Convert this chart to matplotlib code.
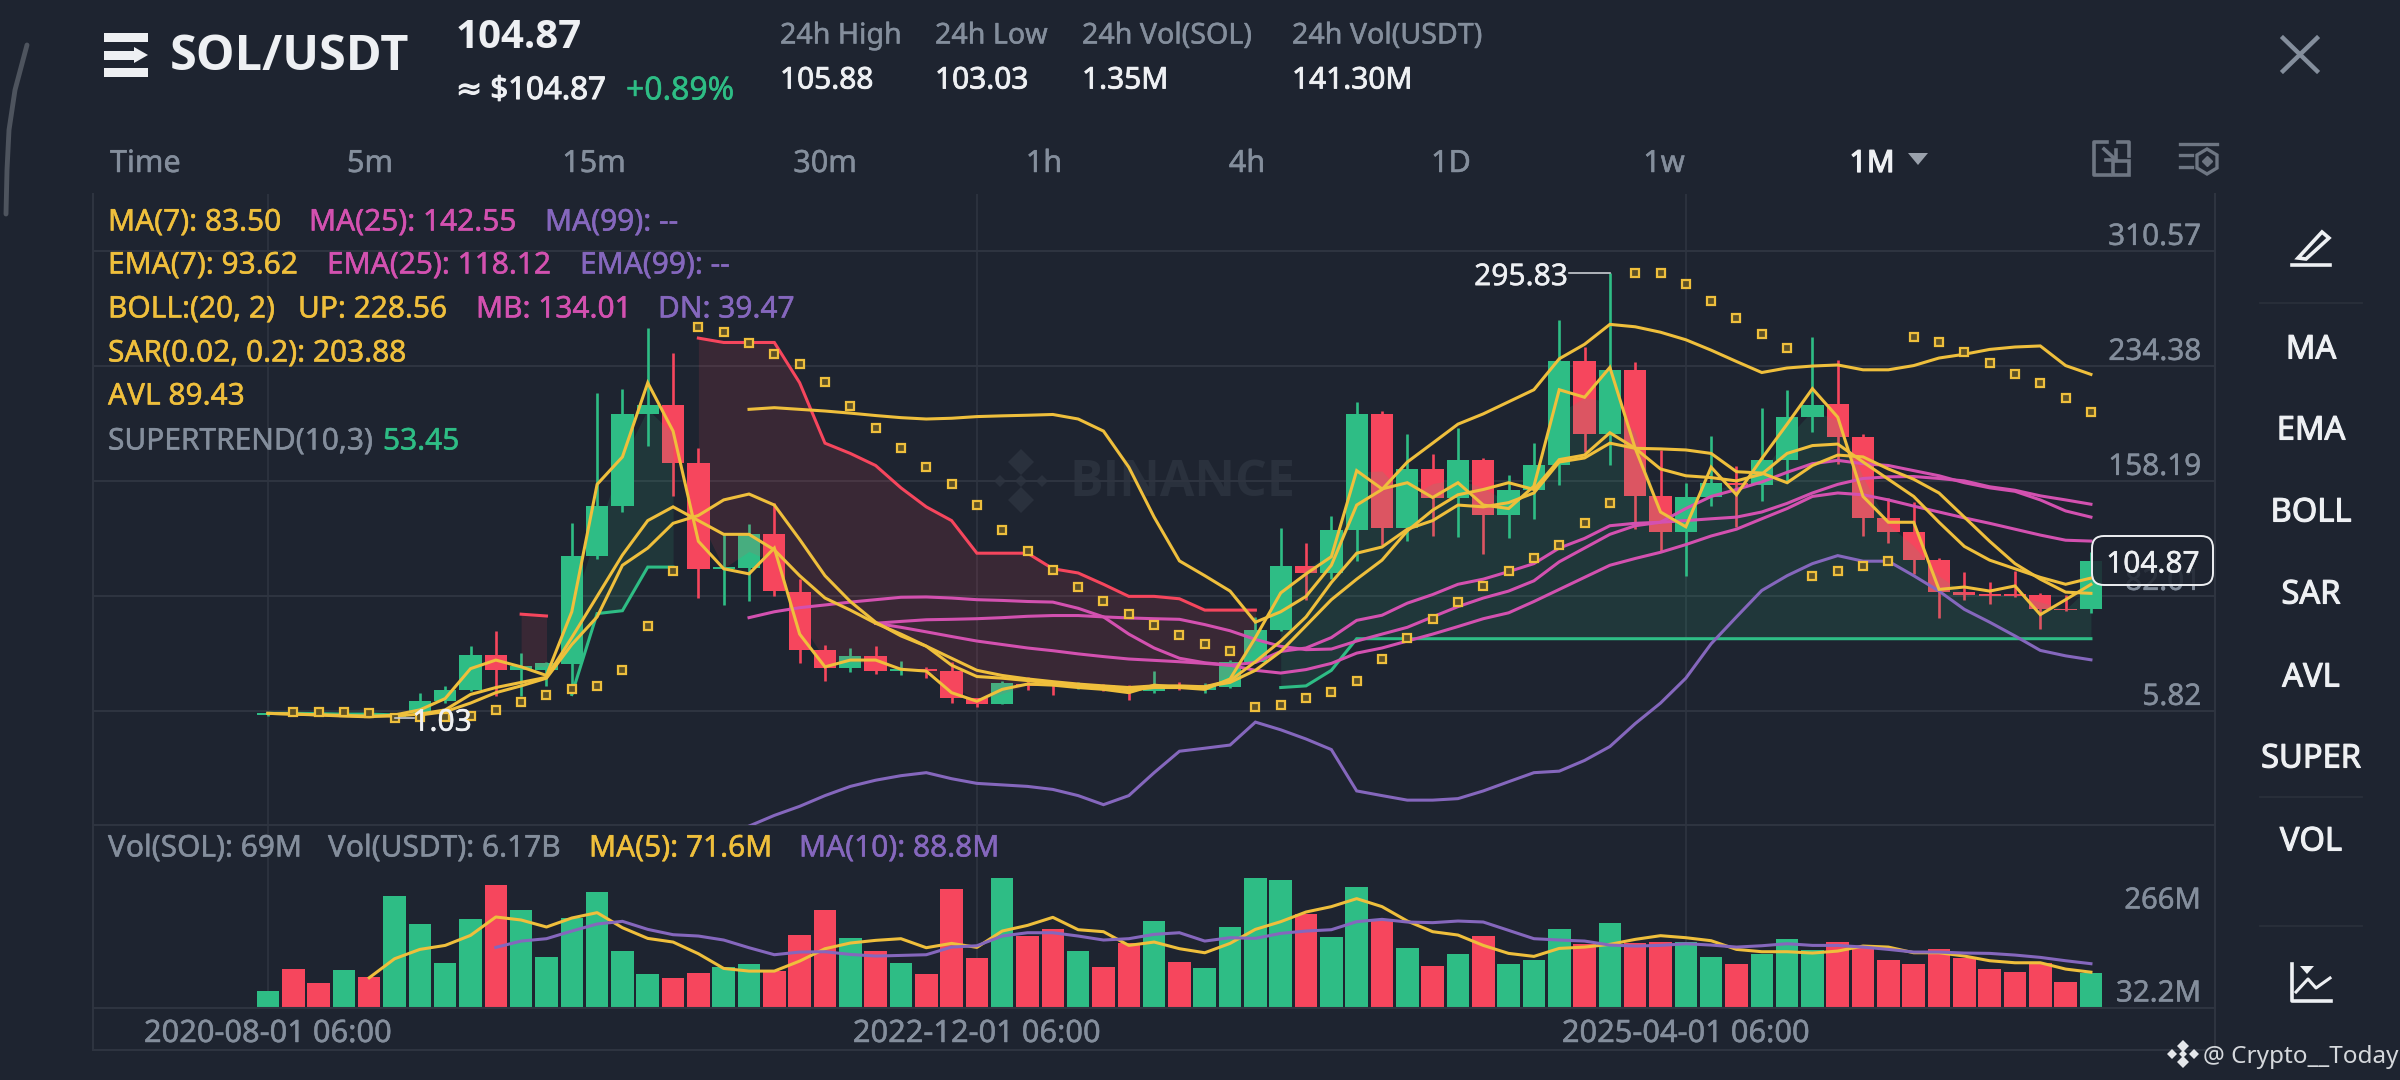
import numpy as np
import matplotlib
matplotlib.use("Agg")
import matplotlib.pyplot as plt
import matplotlib.patheffects as pe
from matplotlib.patches import FancyBboxPatch, Polygon, Rectangle

plt.rcParams['font.family'] = ['Noto Sans', 'DejaVu Sans']
BOLD = ['Open Sans', 'DejaVu Sans']

N = 73
opens = [3.1,4.2,3.8,3.5,3.2,1.6,4.0,12.4,19.4,42.8,33.0,33.0,37.0,108.2,141.3,202.4,208.4,169.8,99.5,100,122.6,84.6,45.7,34.1,42.1,32.0,33.2,32.0,14.2,10.1,23.2,22.7,21.3,22.7,21.8,18.8,22.7,19.5,21.5,38.2,59.2,101.6,97.0,125.6,202.4,126.7,165.9,146.6,171.6,135.1,152.3,168.7,237.3,189.2,231.6,148.1,124.4,147.2,156.8,155,172.1,200.6,208.8,187.4,133.5,124.4,105.5,84.5,83.2,83.2,82.7,73.4,72.9]
closes = [4.4,3.3,3.2,3.0,2.4,2.8,12.4,19.3,42.8,33.0,35.5,37.5,108.2,141.3,202.4,208.4,169.8,99.8,100.9,122.6,85.0,45.7,34.1,42.3,31.8,33.2,32.0,14.2,9.9,24.1,22.2,21.8,23.2,20.9,19.9,22.7,20.4,22.2,38.2,59.2,101.6,97.0,125.6,202.4,126.7,165.9,146.6,171.6,135.1,152.3,168.7,237.3,189.2,231.6,148.1,124.4,147.2,156.4,155,172.1,200.6,208.6,187.4,133.5,124.4,105.5,84.5,82.7,81.6,81.6,72.9,72.2,104.87]
highs = [5,5,4.2,4,4,3.5,17.7,22.2,48.5,58.3,43.9,38.2,130.1,216.1,218.9,259.5,243.0,179.6,122.6,129.4,143.1,93,49.6,47.3,48.5,38.7,34.8,38.2,14.2,25.7,27.9,24.5,24.5,23.4,22.7,32.0,25.0,24.0,39.3,67.9,126.5,116.9,134.5,210,204.3,189.2,175.5,193.3,173.2,161.8,183.0,264.5,246.9,295.83,236.7,178.5,156.8,187.6,168.2,206.5,218,253.3,237.8,189.2,146.6,144.3,106.6,97.9,90.7,98.6,83.4,82.7,110.7]
lows = [2.5,2.8,2.8,2.5,1.5,1.03,2.9,10.8,18.8,15.4,15.4,22.2,16.5,106.2,137.4,180.8,148.1,80.4,75.8,78.1,81.6,37.1,25.7,31.4,30.2,29.5,27.3,10.8,7.9,9.9,19.5,16.1,19.9,18.8,13.1,17.7,19.5,17.7,21.1,37.7,58.3,78.8,92.9,104.8,115.8,118.0,121.5,120.8,109.8,119.9,132.9,155,176.9,168.7,126,111.7,95.2,141.3,127.2,144.7,156.8,190.6,169.4,121.5,116.9,96.4,67.2,78.8,76.5,81.1,59.9,72.0,70.6]

sar = [5.1,5.1,4.7,4.0,1.0,1.7,1.7,2.4,6.3,11.3,16.3,20.2,22.2,32.5,62.1,98.0,259.9,256.5,249.2,242.1,235.3,223.6,207.7,193.3,179.6,167.5,156.1,141.8,125.6,111.6,98.9,87.9,78.6,70.1,62.6,56.0,50.1,45.0,8.1,9.2,14.0,18.4,25.4,40.3,53.7,66.3,77.7,88.4,98.2,107.1,115.3,130.4,143.6,295.9,295.9,288.7,277,265.8,255.6,246.2,95.2,98.6,101.4,104.8,253.5,250.3,243.5,236,229.1,222.7,213.2,203.88]

boll_up = [205.4,206.5,205.4,204.3,202.9,201.3,199.9,199,199.5,200.6,201.1,201.5,202,199,191,167.1,134,105,95.2,85,64.4,71.3,81.5,102.1,142,152.3,170.5,183,195.6,202.4,210.4,218.4,238.9,248.5,261.7,260.1,256.5,251.5,244.6,237.1,229.8,232.8,234.1,234.8,231.6,231.6,234.4,239.4,241.9,245.1,246.7,247.4,234.4,228.56]
boll_mb = [67.4,71.3,74,75.8,77.7,79.3,80.9,81.1,80.4,79.3,78.8,78.1,77.7,73.6,67.9,56.5,47.3,40.5,37.5,35.9,37.7,45,47.3,54.2,65.6,69,77,82.7,89.5,92.9,97.9,103.2,113.5,119.9,128.3,129.9,130.6,139.7,147.7,152.3,157.3,163.7,169.4,171.6,169.4,168.2,164.8,161.4,156.8,153.4,151.1,145.4,138.1,134.01]
boll_dn = [-70.7,-63.6,-57.6,-50.5,-44.4,-40.3,-37.3,-35.3,-39.3,-42.4,-43.4,-44.4,-46.4,-50.5,-56.5,-50.5,-35.3,-21.1,-19.1,-17.0,-1.8,-6.9,-13,-20,-47.4,-50.5,-53.5,-53.5,-52.5,-47.4,-41.3,-35.3,-34.3,-27.2,-18,-2.8,10.8,27.3,50.1,67.9,85.4,95.2,103.2,108.5,104.8,104.8,95.2,85,72.9,64.4,55.3,45.7,42.1,39.47]
ma25 = [63.7,64.9,66,66.3,66.7,67.4,68.3,68.8,68.8,67.9,67.2,66.7,66.3,62.8,58.7,53,48.4,46.2,46.6,51.9,56.5,61,67.9,74.7,80.4,85,91.8,104.4,113.5,122.6,128.3,130.6,131.7,132.9,134,137.4,143.1,150,155.7,159.6,160.7,160.9,159.6,158,154.1,151.8,148.1,145.4,142.55]
ema25 = [63.7,61,58,54.9,51.9,49.6,47.3,45.5,43.4,41.6,40,39.1,38.2,37.1,35.9,32.5,30.7,33,37.1,43.9,47.3,51.9,56.5,61.5,66.7,70.6,78.1,86.1,94.1,102.1,106.6,110.7,115.8,121.5,126,132.9,139.7,147.7,150,148.8,145.4,141.3,137.4,133.5,129.9,126,122.1,118.7,118.12]
avl = [4,3.5,2.9,2.2,1.7,2.9,6.3,13.8,33.6,39.3,34.8,29.1,71.3,155.7,173.9,223,191,118,99.8,96.4,113.5,56.5,34.8,39.3,39.3,33.2,32,17.7,12,19.9,23.4,22.7,21.1,19.9,17.7,22.7,21.1,19.9,26.8,54.2,83.8,96.4,107.8,164.8,152.7,156.8,147,156.8,142,139.7,154.5,218.4,213.4,233.2,179.6,137.4,127.6,167.1,148.8,172.8,195.6,219.1,200.2,147.7,130.6,130.6,86.1,87.7,85,88.4,69.4,79.3,89.43]
ema7 = [4,3.5,3.1,2.6,2.2,2.2,3.5,6.3,16.5,21.1,24.5,27.9,54.2,81.5,108.9,131.7,140.8,131.7,122.6,122.6,112.3,95.2,80.4,72.4,63.7,56.5,48.5,35.9,28.4,27.3,25.7,23.8,22.2,21.1,19.5,21.1,21.1,21.6,25.7,38.2,51.9,67.9,90.7,110.1,114.2,126,131.7,142,140.8,143.6,150,170.5,173.2,183,179.6,165.9,161.4,160.2,158,162.5,176.2,181.4,182.4,170.5,159.1,147.7,130.6,114.6,105.5,99.8,94.1,89.5,93.62]
ma7 = [2.9,5.1,10.8,17.7,22.2,27.3,49.6,67.9,102.1,113.5,129.9,135.1,145.4,149.3,142,119.2,95.2,78.1,64.4,55.3,48.5,40.5,32.5,29.1,26.8,25,23.4,22.2,21.1,22.2,22.2,21.6,24.5,32.5,45,62.1,79.3,92.9,105.5,124.9,138.6,148.8,152.3,156.8,152.3,172.1,175.1,189.9,179.6,179.2,178.5,176.2,164.1,163.2,156.8,168.2,175.1,173.9,165.9,159.1,150,134,118,103.2,92.9,84.3,83.5]

st_green_a = [4.0,4.0,3.8,3.5,3.5,3.0]
st_red_a = [69.7,68.5]
st_green_b = [16.5,70.1,72,100.9,100.9]
st_red_b = [252.6,249.7,249.7,249.7,223,183,176.2,168.2,153.4,140.8,131.7,110.1,110.1,110.1,99.8,97,89.5,81.5,81.5,79.9,72.4,72.4,72.4]
st_green_c = [21.1,22.2,32.5,53.45,53.45,53.45,53.45,53.45,53.45,53.45,53.45,53.45,53.45,53.45,53.45,53.45,53.45,53.45,53.45,53.45,53.45,53.45,53.45,53.45,53.45,53.45,53.45,53.45,53.45,53.45,53.45,53.45,53.45]

vol = [32.5,78.5,48.7,75.8,61.6,226.8,168.6,89.4,179.4,247.8,197.7,101.6,180.8,234.2,113.7,68.4,60.3,70.4,81.2,88.7,73.8,147.6,197,140.1,113.7,90,67.7,241,100.9,262.7,144.9,159.8,115.1,81.2,130,175.3,91.4,79.2,163.8,263.4,259.3,190.2,142.8,243.7,176.7,120.5,83.3,107.6,144.2,88,96.1,159.8,128,172,130,133.4,132.7,101.6,88,108.3,138.1,116.4,133.4,121.2,95.5,88.7,117.8,99.5,77.9,71.1,90.7,50.8,69]
vol_dir = ("GRRGR" "GGGGR" "GGGGG" "GRRGG" "RRRGR" "GRRRG" "RRGRR" "GRGGG" "GRGGR" "GRGRG"
           "GGRGR" "RGGRG" "GGRRR" "RRRRR" "RRG")
vol_ma5 = [60.3,98.8,117.8,125.9,146.2,183.5,177.4,163.2,181.4,192.3,161.8,140.1,132.7,109,79.2,73.8,73.8,94.1,119.2,130.7,136.1,139.5,121.2,130,121.9,155,166.5,182.8,157.7,153.7,125.9,132.7,119.2,111,130,158.4,174,193.6,204.5,220.7,204.5,175.3,153.7,146.9,125.9,109.7,103.6,119.8,122.5,128,138.1,145.6,141.5,135.4,117.8,113.1,113.1,110.4,114.4,124.6,122.5,111,111,104.3,94.8,90.7,90.7,77.9,71.6]
vol_ma10 = [121.9,134.7,139.5,155,169.3,174.7,158.4,147.6,144.9,136.8,121.2,107,112.4,113.1,107.6,104.3,105.6,107,122.5,125.2,144.9,151.6,151.6,144.9,136.8,139.5,148.3,151.6,134.7,141.5,140.1,150.3,155,157.7,174,178.7,173.3,172,175.3,173.3,156.4,139.5,136.8,134.7,126.6,124.6,125.9,129.3,126.6,122.5,125.2,129.3,125.9,125.9,122.5,117.8,112.4,112.4,110.4,109.7,106.3,101.6,94.8,88.8]

price_ticks = [310.57, 234.38, 158.19, 82.01, 5.82]
price_tick_labels = ['310.57', '234.38', '158.19', '82.01', '5.82']
date_positions = [0, 28, 56]
date_labels = ['2020-08-01 06:00', '2022-12-01 06:00', '2025-04-01 06:00']
intervals = ['5m', '15m', '30m', '1h', '4h', '1D', '1w']
side_buttons = ['MA', 'EMA', 'BOLL', 'SAR', 'AVL', 'SUPER', 'VOL']

BG = '#1E2430'; GRID = '#2E3440'; GREEN = '#2EBD85'; RED = '#F6465D'
YEL = '#EFBF3C'; PINK = '#D351B0'; PUR = '#8567BD'; GRAY = '#848E9C'; WHITE = '#EEF0F3'
LW = 2.2

W, H = 2400, 1080
fig = plt.figure(figsize=(24, 10.8), dpi=100, facecolor=BG)
def axpx(l, t, r, b, **k):
    return fig.add_axes([l/W, 1-b/H, (r-l)/W, (b-t)/H], **k)

under = axpx(0, 0, W, H); under.set_xlim(0, W); under.set_ylim(H, 0); under.axis('off'); under.set_zorder(0)
ax = axpx(93, 194, 2215, 825); ax.set_zorder(2); ax.patch.set_alpha(0)
vx = axpx(93, 825, 2215, 1007.5); vx.set_zorder(2); vx.patch.set_alpha(0)
top = axpx(0, 0, W, H); top.set_xlim(0, W); top.set_ylim(H, 0); top.axis('off'); top.set_zorder(5)

XL = (-6.91, 76.9)
xs = np.arange(N)
def pad(v):
    return np.array([np.nan]*(N-len(v)) + list(v), float)
def thick(c, w=0.5):
    return [pe.withStroke(linewidth=w, foreground=c)]

for a in (ax, vx):
    a.set_xlim(*XL)
    a.set_xticks(date_positions)
    a.grid(True, axis='x', color=GRID, lw=1.2, zorder=0)
    a.tick_params(length=0, labelleft=False, labelbottom=False)
    for s in a.spines.values():
        s.set_color(GRID); s.set_linewidth(1.5)
ax.set_ylim(-69.97, 348.07)
ax.set_yticks(price_ticks)
ax.grid(True, axis='y', color=GRID, lw=1.5, zorder=0)
ax.spines['top'].set_visible(False)
vx.spines['top'].set_visible(False)
vx.set_ylim(0, 370)
vx.set_yticks([])
for t, l in zip(price_ticks, price_tick_labels):
    ax.annotate(l, (1, t), xycoords=ax.get_yaxis_transform(), xytext=(-10, 9.5), textcoords='offset points',
                ha='right', va='center', color=GRAY, fontsize=21.4, path_effects=thick(GRAY, 0.3))

under.text(1069, 483, 'BINANCE', color='#2A313D', fontsize=36, family=BOLD, fontweight='bold', ha='left', va='center')
for cx, cy, sz in [(1021, 462, 13), (1021, 481, 6), (1021, 500, 13), (1000, 481, 6), (1042, 481, 6)]:
    under.plot([cx], [cy], marker='D', ms=sz, color='#2A313D', mew=0)

cols = [GREEN if c >= o else RED for o, c in zip(opens, closes)]
ax.vlines(xs, lows, highs, colors=cols, lw=1.9, zorder=2)
bot = np.minimum(opens, closes); hgt = np.maximum(np.abs(np.array(closes)-np.array(opens)), 1.2)
ax.bar(xs, hgt, bottom=bot, width=0.88, color=cols, zorder=2.1, lw=0)

mid = (np.array(opens)+np.array(closes))/2
def st(start, vals, col):
    x = xs[start:start+len(vals)]
    ax.fill_between(x, vals, mid[start:start+len(vals)], color=col, alpha=0.13, lw=0, zorder=3)
    ax.plot(x, vals, color=col, lw=LW, zorder=3.2, solid_joinstyle='miter')
st(0, st_green_a, GREEN); st(10, st_red_a, RED); st(12, st_green_b, GREEN)
st(17, st_red_b, RED); st(40, st_green_c, GREEN)

for v, c in [(ema25, PINK), (ma25, PINK), (boll_mb, PINK), (boll_dn, PUR), (boll_up, YEL),
             (ma7, YEL), (ema7, YEL), (avl, YEL)]:
    ax.plot(xs, pad(v), color=c, lw=LW, zorder=4, solid_joinstyle='miter')
ax.plot(xs[1:], sar, ls='none', marker='s', ms=5.6, mew=1.6, mec=YEL, mfc='#5E5126', zorder=5)

ax.plot([51.4, 53], [295.83, 295.83], color='#C9CDD3', lw=1.2, zorder=6)
ax.text(51.35, 293.0, '295.83', color=WHITE, fontsize=21.6, ha='right', va='center', zorder=7, path_effects=thick(WHITE, 0.3))
ax.plot([5, 5.75], [1.03, 1.03], color='#C9CDD3', lw=1.2, zorder=6)
ax.text(5.7, -2.2, '1.03', color=WHITE, fontsize=21.6, ha='left', va='center', zorder=7, path_effects=thick(WHITE, 0.3))

vc = [GREEN if d == 'G' else RED for d in vol_dir]
vx.bar(xs, vol, width=0.89, color=vc, lw=0, zorder=2)
vx.plot(xs, pad(vol_ma5), color=YEL, lw=LW, zorder=3)
vx.plot(xs, pad(vol_ma10), color=PUR, lw=LW, zorder=3)

top.plot([93, 2215], [1050, 1050], color=GRID, lw=1.5)
top.plot([93, 93], [1007, 1050], color=GRID, lw=1.5)
top.plot([2215, 2215], [1007, 1050], color=GRID, lw=1.5)

def T(x, y, s, c=GRAY, fs=21.5, w='normal', ha='left', fam=None, st=0.35):
    kw = {}
    if fam: kw['family'] = fam
    t = top.text(x, y+3, s, color=c, fontsize=fs, fontweight=w, ha=ha, va='center', **kw)
    if st: t.set_path_effects(thick(c, st))

for p, l in zip(date_positions, date_labels):
    T(268+25.32*p, 1031, l, GRAY, 22.2, ha='center')
T(2201, 898, '266M', GRAY, 21, ha='right')
T(2201, 991, '32.2M', GRAY, 21.2, ha='right')

T(108, 220, 'MA(7): 83.50', YEL); T(309, 220, 'MA(25): 142.55', PINK); T(545, 220, 'MA(99): --', PUR)
T(108, 263, 'EMA(7): 93.62', YEL); T(327, 263, 'EMA(25): 118.12', PINK); T(580, 263, 'EMA(99): --', PUR)
T(108, 307, 'BOLL:(20, 2)', YEL); T(298, 307, 'UP: 228.56', YEL); T(476, 307, 'MB: 134.01', PINK); T(658, 307, 'DN: 39.47', PUR)
T(108, 351, 'SAR(0.02, 0.2): 203.88', YEL)
T(108, 394, 'AVL 89.43', YEL)
T(108, 439, 'SUPERTREND(10,3)', GRAY); T(383, 439, '53.45', GREEN)
T(108, 846, 'Vol(SOL): 69M', GRAY); T(328, 846, 'Vol(USDT): 6.17B', GRAY)
T(589, 846, 'MA(5): 71.6M', YEL); T(799, 846, 'MA(10): 88.8M', PUR)

top.add_patch(FancyBboxPatch((2092, 536), 121, 49, boxstyle='round,pad=0,rounding_size=12',
                             fc=BG, ec='none', alpha=0.88))
top.add_patch(FancyBboxPatch((2092, 536), 121, 49, boxstyle='round,pad=0,rounding_size=12',
                             fc='none', ec=WHITE, lw=1.4))
T(2153, 562, '104.87', WHITE, 21.5, ha='center')

T(170, 55, 'SOL/USDT', WHITE, 35, 'bold', fam=BOLD, st=0)
for y0 in (33, 68):
    top.add_patch(Rectangle((104, y0), 44, 9, fc=WHITE, lw=0))
top.add_patch(Polygon([(104, 51), (134, 51), (134, 47), (148, 55), (134, 63), (134, 60), (104, 60)], fc=WHITE, lw=0))
T(456, 34, '104.87', WHITE, 29, 'bold', fam=BOLD, st=0)
T(456, 88, '≈ $104.87', WHITE, 22.5, st=0.8)
T(626, 88, '+0.89%', GREEN, 23)
for x, a, b in [(780, '24h High', '105.88'), (935, '24h Low', '103.03'), (1082, '24h Vol(SOL)', '1.35M'), (1292, '24h Vol(USDT)', '141.30M')]:
    T(x, 33, a, GRAY, 20.6); T(x, 78, b, WHITE, 21.5, st=0.6)
T(110, 161, 'Time', GRAY, 22)
for x, s in zip([370, 594, 825, 1044, 1247, 1451, 1664], intervals):
    T(x, 161, s, GRAY, 22, ha='center')
T(1872, 161, '1M', WHITE, 22, ha='center', st=0.9)
top.add_patch(Polygon([(1908, 153), (1928, 153), (1918, 165)], fc='#9AA1AC', lw=0))

top.plot([2283, 2317], [38, 71], color=GRAY, lw=3.2); top.plot([2283, 2317], [71, 38], color=GRAY, lw=3.2)
IC = '#6E7683'
top.plot([2107, 2094, 2094, 2110], [142, 142, 175, 175], color=IC, lw=2.6)
top.plot([2118, 2129, 2129], [142, 142, 156], color=IC, lw=2.6)
top.add_patch(Rectangle((2113, 161), 16, 14, fc='none', ec=IC, lw=2.6))
top.plot([2104, 2116], [149, 160], color=IC, lw=2.6); top.plot([2106, 2116, 2116], [160, 160, 150], color=IC, lw=2.6)
top.plot([2180, 2217], [144, 144], color=IC, lw=2.4)
top.plot([2180, 2192], [155, 155], color=IC, lw=2.4); top.plot([2180, 2192], [167, 167], color=IC, lw=2.4)
top.add_patch(Polygon([(2197, 155), (2207, 149), (2217, 155), (2217, 168), (2207, 174), (2197, 168)], fc='none', ec=IC, lw=2.4))
top.plot([2207], [161], marker='D', ms=5, color=IC)

for y, s in zip([347, 428, 510, 592, 675, 756, 839], side_buttons):
    T(2311, y, s, WHITE, 23.5, ha='center', st=0.8)
for y in (303, 797, 926):
    top.plot([2260, 2362], [y, y], color='#2A303B', lw=1.3)
top.plot([2292, 2330], [265, 265], color=WHITE, lw=2.6)
top.add_patch(Polygon([(2298, 258), (2322, 232), (2329, 238), (2306, 259)], fc='none', ec=WHITE, lw=2.6))
top.plot([2292, 2292, 2331], [964, 1001, 1001], color=WHITE, lw=2.6)
top.plot([2296, 2308, 2316, 2330], [992, 979, 988, 978], color=WHITE, lw=2.2)
top.add_patch(Polygon([(2300, 966), (2314, 966), (2307, 974)], fc=WHITE, lw=0))

T(2203, 1054, '@ Crypto__Today', '#D5D8DC', 17.5, st=0)
for cx, cy, sz in [(2183, 1046, 6), (2183, 1062, 6), (2172, 1054, 5), (2194, 1054, 5), (2183, 1054, 4)]:
    top.plot([cx], [cy], marker='D', ms=sz, color='#E4E6EA', mew=0)
ty = np.array([45, 90, 130, 170, 214])
tx = np.array([27, 15, 9, 7, 6])
top.plot(tx, ty, color='#4E545E', lw=3.5, solid_capstyle='round')

fig.savefig('out.png', dpi=100, facecolor=BG)
